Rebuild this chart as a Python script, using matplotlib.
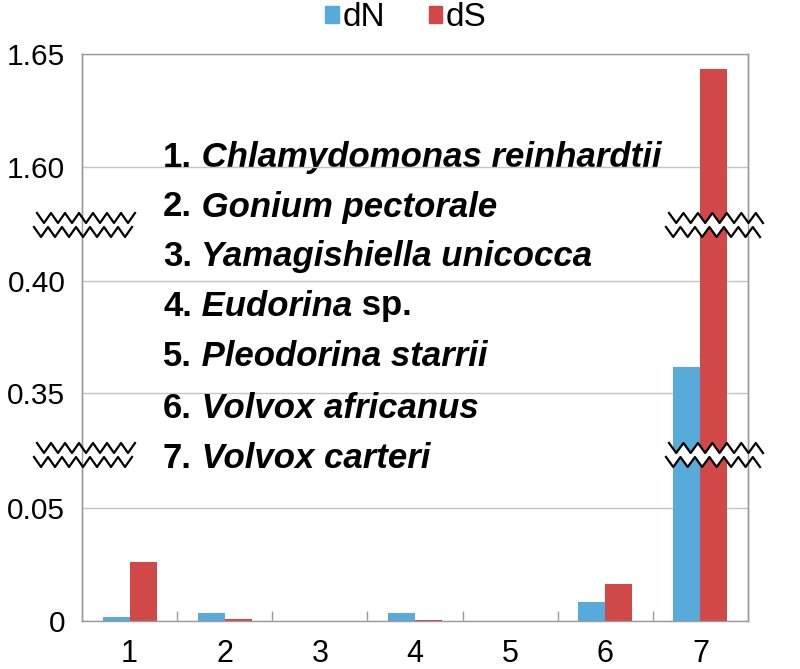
import numpy as np
import matplotlib
matplotlib.use("Agg")
import matplotlib.pyplot as plt
from matplotlib.patches import Polygon
from matplotlib.lines import Line2D

plt.rcParams['font.family'] = ['Liberation Sans', 'DejaVu Sans']

# ---- data ----
categories = [1, 2, 3, 4, 5, 6, 7]
dN = [0.0018, 0.0037, 0.0, 0.0037, 0.0, 0.0082, 0.3615]
dS = [0.026, 0.0009, 0.0, 0.0006, 0.0, 0.0163, 1.6434]
species_num = ["1.", "2.", "3.", "4.", "5.", "6.", "7."]
species_name = ["Chlamydomonas reinhardtii", "Gonium pectorale",
                "Yamagishiella unicocca", "Eudorina", "Pleodorina starrii",
                "Volvox africanus", "Volvox carteri"]
species_suffix = ["", "", "", " sp.", "", "", ""]
seg_limits = [(0.0, 0.07345), (0.3223, 0.425), (1.5743, 1.65)]
seg_ticks = [([0.0, 0.05], ["0", "0.05"]),
             ([0.35, 0.40], ["0.35", "0.40"]),
             ([1.60, 1.65], ["1.60", "1.65"])]

BLUE = "#58AADA"
RED = "#D04848"
GREY = "#9a9a9a"
GRID = "#c4c4c4"

W, H = 800, 669
fig = plt.figure(figsize=(W / 100, H / 100), dpi=100)

def fx(px):
    return np.asarray(px) / W

def fy(py):
    return 1 - np.asarray(py) / H

left_px, right_px = 82, 748
seg_px = [(621, 455), (455, 225), (225, 54)]  # (bottom, top) pixel rows

axes = []
x = np.array(categories, dtype=float)
bw = 0.284
for i, ((yb, yt), lims, (tks, tls)) in enumerate(zip(seg_px, seg_limits, seg_ticks)):
    ax = fig.add_axes([fx(left_px), fy(yb), fx(right_px) - fx(left_px), (yb - yt) / H])
    ax.bar(x - bw / 2, dN, width=bw, color=BLUE, zorder=2)
    ax.bar(x + bw / 2, dS, width=bw, color=RED, zorder=2)
    ax.set_xlim(0.5, 7.5)
    ax.set_ylim(*lims)
    ax.set_yticks(tks)
    ax.set_yticklabels(tls, fontsize=21.5)
    ax.tick_params(axis='y', length=0, pad=12)
    ax.yaxis.grid(True, color=GRID, lw=1.0)
    ax.set_axisbelow(True)
    for s in ax.spines.values():
        s.set_color(GREY)
        s.set_linewidth(1.0)
    if i != 0:
        ax.spines['bottom'].set_visible(False)
        ax.set_xticks([])
    if i != 2:
        ax.spines['top'].set_visible(False)
    ax.patch.set_alpha(0)
    axes.append(ax)

axb = axes[0]
axb.set_xticks(categories)
axb.set_xticklabels([str(c) for c in categories], fontsize=22)
axb.tick_params(axis='x', which='major', length=0, pad=13)
axb.set_xticks([c + 0.5 for c in categories[:-1]], minor=True)
axb.tick_params(axis='x', which='minor', direction='in', length=7, color=GREY, width=1)

# legend
h1 = plt.Rectangle((0, 0), 1, 1, color=BLUE)
h2 = plt.Rectangle((0, 0), 1, 1, color=RED)
fig.legend([h1, h2], ["dN", "dS"], loc='center', bbox_to_anchor=(fx(406), fy(18)),
           ncol=2, frameon=False, fontsize=24, handlelength=0.4, handleheight=0.4,
           handletextpad=0.12, columnspacing=1.3, borderpad=0)

# species list
line_y = [158, 207, 257, 306, 357, 408, 459]
axm = axes[1]
for num, name, suf, yy in zip(species_num, species_name, species_suffix, line_y):
    t1 = fig.text(fx(163), fy(yy), num, fontsize=25, fontweight='bold',
                  va='center', ha='left', zorder=10)
    t2 = axm.annotate(" " + name, xy=(1, 0), xycoords=t1, va='bottom', ha='left',
                      fontsize=25, fontweight='bold', fontstyle='italic', zorder=10)
    if suf:
        axm.annotate(suf, xy=(1, 0), xycoords=t2, va='bottom', ha='left',
                     fontsize=25, fontweight='bold', zorder=10)

# axis break marks
def zigzag(x0, x1, yc, amp=5, period=14):
    n = int(round((x1 - x0) / (period / 2)))
    xs = np.linspace(x0, x1, n + 1)
    ys = np.array([yc + (amp if k % 2 else -amp) for k in range(n + 1)])
    return xs, ys

for (x0, x1) in [(37, 135), (669, 763)]:
    for yc in [225, 455]:
        xa, ya = zigzag(x0, x1, yc - 7)
        xb, yb2 = zigzag(x0 - 3, x1 - 3, yc + 7)
        poly = np.vstack([np.column_stack([xa, ya]), np.column_stack([xb[::-1], yb2[::-1]])])
        poly = np.column_stack([fx(poly[:, 0]), fy(poly[:, 1])])
        fig.add_artist(Polygon(poly, closed=True, facecolor='white', edgecolor='none',
                               transform=fig.transFigure, zorder=5))
        for xs, ys in [(xa, ya), (xb, yb2)]:
            fig.add_artist(Line2D(fx(xs), fy(ys), color='black', lw=1.6,
                                  transform=fig.transFigure, zorder=7))
# keep the frame continuous through the white gaps
for xp in (left_px, right_px):
    fig.add_artist(Line2D([fx(xp), fx(xp)], [fy(621), fy(54)], color=GREY, lw=1.0,
                          transform=fig.transFigure, zorder=6))

fig.savefig("out.png", dpi=100)
